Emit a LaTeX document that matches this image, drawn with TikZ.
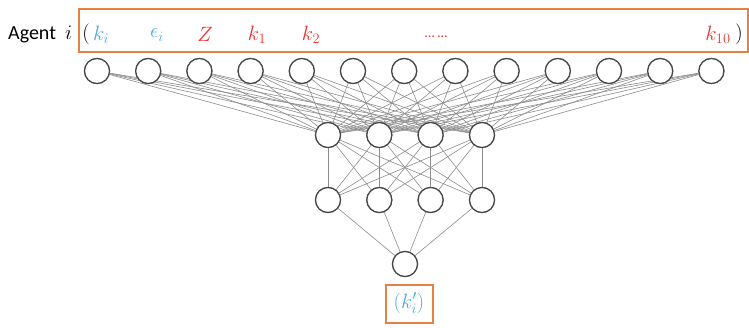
\documentclass[tikz,border=0pt]{standalone}
\usepackage{fontspec}
\setmainfont{Carlito}
\definecolor{boxorange}{RGB}{232,128,66}
\definecolor{varblue}{RGB}{70,170,230}
\definecolor{varred}{RGB}{235,50,45}
\definecolor{edgegray}{RGB}{140,140,140}
\definecolor{ringgray}{RGB}{70,70,70}
\begin{document}
\begin{tikzpicture}[x=1pt,y=-1pt,
  neuron/.style={circle,draw=ringgray,line width=1.2pt,fill=white,minimum size=25pt,inner sep=0pt},
  link/.style={draw=edgegray,line width=0.6pt},
  frame/.style={draw=boxorange,line width=2pt},
  lbl/.style={inner sep=0pt,font=\fontsize{20}{24}\selectfont}]
\useasboundingbox (0,0) rectangle (749,327);

% input layer
\foreach \k [count=\n] in {97,148.2,199.4,250.6,301.8,353,404.2,455.4,506.6,557.8,609,660.2,711.4}
  \node[neuron] (in\n) at (\k,71) {};
% two hidden layers of four units
\foreach \k [count=\n] in {328,379.3,430.6,482}{
  \node[neuron] (ha\n) at (\k,135) {};
  \node[neuron] (hb\n) at (\k,200) {};
}
% single output
\node[neuron] (out) at (405,264) {};

% fully connected links
\foreach \a in {1,...,13}
  \foreach \b in {1,...,4}
    \draw[link] (in\a) -- (ha\b);
\foreach \a in {1,...,4}
  \foreach \b in {1,...,4}
    \draw[link] (ha\a) -- (hb\b);
\foreach \a in {1,...,4}
  \draw[link] (hb\a) -- (out);
% units drawn again over the links
\foreach \n in {1,...,13} \node[neuron] at (in\n) {};
\foreach \n in {1,...,4}{\node[neuron] at (ha\n) {}; \node[neuron] at (hb\n) {};}
\node[neuron] at (out) {};

% input tuple frame and labels
\node[frame,minimum width=669pt,minimum height=43pt,inner sep=0pt] (inbox) at (413.5,30.5) {};
\node[lbl,anchor=west] (agent) at (8,34) {Agent \ $i$};
\node[lbl] (lp) at (86,34) {$($};
\node[lbl,text=varblue] (vk) at (101,35) {$k_i$};
\node[lbl,text=varblue] (ve) at (157,35) {$\epsilon_i$};
\node[lbl,text=varred] (vz) at (205,34) {$Z$};
\node[lbl,text=varred] (v1) at (257,35) {$k_1$};
\node[lbl,text=varred] (v2) at (311,35) {$k_2$};
\node[lbl,text=varred,font=\fontsize{14}{16}\selectfont] (vd) at (436,37) {\dots\ \dots};
\node[lbl,text=varred] (v10) at (718,35) {$k_{10}$};
\node[lbl] (rp) at (739,34) {$)$};

% output frame
\node[frame,minimum width=47pt,minimum height=38pt,inner sep=0pt] (outbox) at (409,304) {};
\node[lbl,text=varblue] (vo) at (409,303) {$(k_i')$};
\end{tikzpicture}
\end{document}
